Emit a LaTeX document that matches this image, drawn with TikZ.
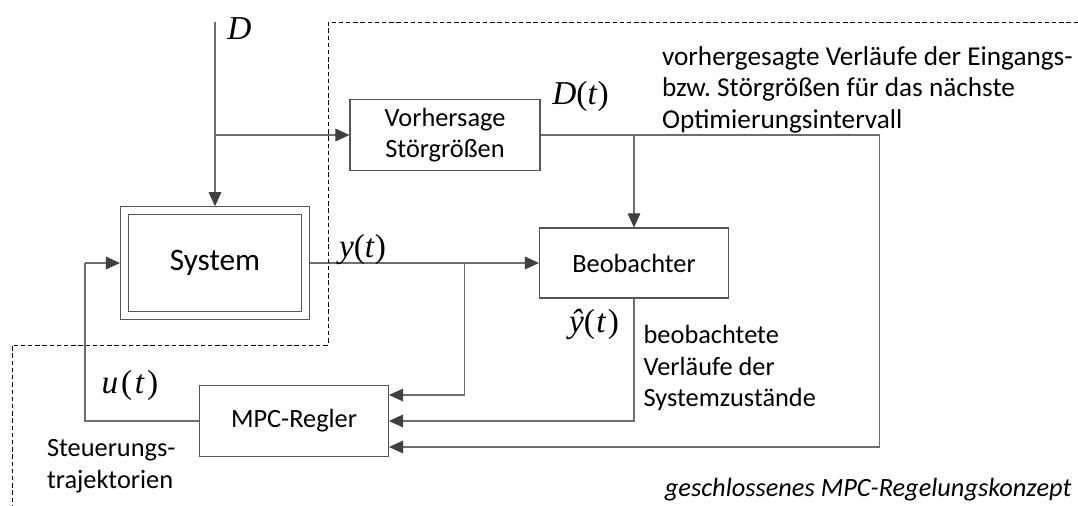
\documentclass[tikz,border=0pt]{standalone}
\usepackage{fontspec}
\setmainfont{Carlito}
\newfontfamily\timesfont{Liberation Serif}
\usetikzlibrary{arrows.meta, calc}
\usepackage{xcolor}
\frenchspacing

\definecolor{linegray}{HTML}{6E6E6E}
\definecolor{tipgray}{HTML}{404040}
\definecolor{boxgray}{HTML}{555555}

\newcommand{\sigvar}[1]{{\timesfont\itshape #1}}
\newcommand{\sigfn}[2]{\sigvar{#1}{\timesfont(}\sigvar{#2\/}{\timesfont)}}

\tikzset{
  block/.style={draw=boxgray, line width=0.6pt, minimum width=3.78cm,
    minimum height=1.41cm, align=center, inner sep=0pt,
    font=\fontsize{15}{18}\selectfont},
  sig/.style={draw=linegray, line width=0.6pt,
    -{Triangle[length=8pt, width=7.2pt, color=tipgray]}},
  wire/.style={draw=linegray, line width=0.6pt},
  bound/.style={draw=black, line width=0.5pt, dash pattern=on 2.5pt off 1.6pt},
  note/.style={align=left, inner sep=0pt, anchor=base west,
    font=\fontsize{15}{18}\selectfont},
  mathlbl/.style={inner sep=0pt, font=\fontsize{19}{21}\selectfont},
}

\begin{document}
\begin{tikzpicture}[x=0.02cm, y=-0.02cm]
  \useasboundingbox (0,0) rectangle (1078,505);

  % boxes
  \node[block, minimum height=2.25cm] (sys) at (215,263) {};
  \node[block, minimum width=3.47cm, minimum height=1.95cm,
        font=\fontsize{17.8}{20}\selectfont] (sysin) at (215,263) {System};
  \node[block, minimum width=3.8cm, minimum height=1.42cm] (vorh) at (445,135) {Vorhersage\\Störgrößen};
  \node[block, minimum height=1.40cm] (beob) at (634,263) {Beobachter};
  \node[block] (mpc) at (294,421) {MPC-Regler};

  % corner points
  \coordinate (Dtop) at (215,22);
  \coordinate (Dsplit) at (215,135);
  \coordinate (Dcorner) at (879.5,135);
  \coordinate (ysplit) at (464.3,263);
  \coordinate (ucorner) at (85,263);
  \coordinate (mpcin1) at ($(mpc.east)+(0,-26)$);
  \coordinate (mpcin3) at ($(mpc.east)+(0,26)$);

  % signals
  \draw[sig] (Dtop) -- (Dtop |- sys.north);
  \draw[sig] (Dsplit) -- (vorh.west);
  \draw[sig] (vorh.east) -- (Dcorner) |- (mpcin3);
  \draw[sig] (vorh.east -| beob.north) -- (beob.north);
  \draw[sig] (sys.east) -- (beob.west);
  \draw[sig] (ysplit) |- (mpcin1);
  \draw[sig] (beob.south) |- (mpc.east);
  \draw[wire] (mpc.west) -| (ucorner);
  \draw[sig] (ucorner) -- (sys.west);

  % boundary
  \draw[bound] (1078,22) -- (328,22) -- (328,345) -- (12,345) -- (12,505);

  % labels
  \node[mathlbl] (lblD) at (239.5,29) {\sigvar{D}};
  \node[mathlbl] (lblDt) at (580.5,96) {\sigfn{D}{t}};
  \node[mathlbl] (lbly) at (362.5,250) {\sigfn{y}{t}};
  \node[mathlbl] (lblyh) at (594,324)
    {\sigvar{\^{y}}{\timesfont(}\kern0.8pt\sigvar{t\/}\kern0.8pt{\timesfont)}};
  \node[mathlbl] (lblu) at (130,385)
    {\sigvar{u}\kern1.6pt{\timesfont(}\kern1.4pt\sigvar{t\/}\kern1.4pt{\timesfont)}};

  \node[note, font=\fontsize{15.5}{18}\selectfont] (notevorh) at (661.7,128.3)
    {vorhergesagte Verläufe der Eingangs-\\bzw. Störgrößen für das nächste\\Optimierungsintervall};
  \node[note] (notebeob) at (643.3,406.7)
    {beobachtete\\Verläufe der\\Systemzustände};
  \node[note] (notempc) at (46.7,488)
    {Steuerungs-\\trajektorien};
  \node[inner sep=0pt, anchor=base east, font=\fontsize{15}{18}\selectfont\itshape]
    (caption) at (1071.7,496.5) {geschlossenes MPC-Regelungskonzept};
\end{tikzpicture}
\end{document}
